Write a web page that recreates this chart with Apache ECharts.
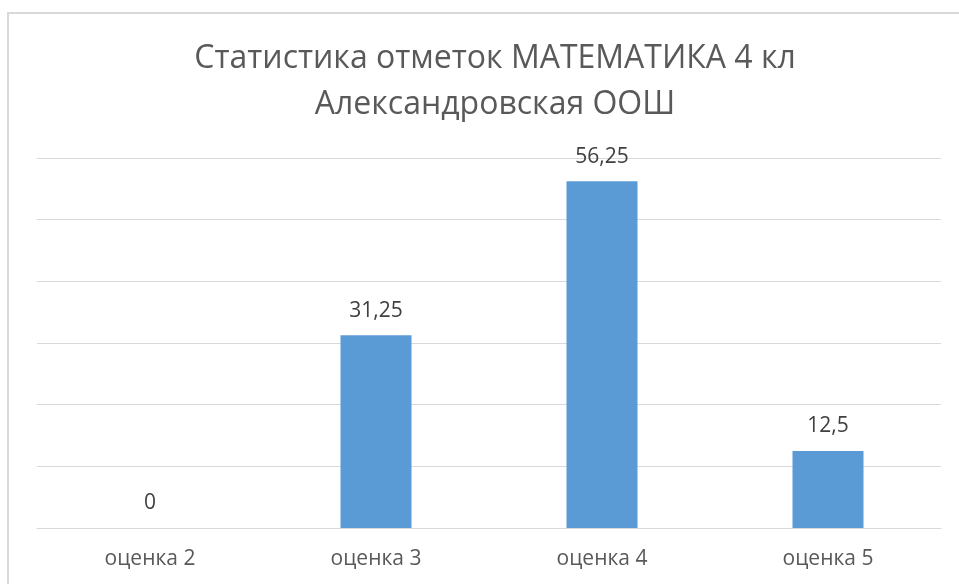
<!DOCTYPE html>
<html>
<head>
<meta charset="utf-8">
<script src="https://cdn.jsdelivr.net/npm/echarts@6/dist/echarts.min.js"></script>
<style>
  html, body { margin: 0; padding: 0; background: #fff; }
  #main { width: 959px; height: 584px; }
</style>
</head>
<body>
<div id="main"></div>
<script>
var categories = ["оценка 2", "оценка 3", "оценка 4", "оценка 5"]
var values = [0, 31.25, 56.25, 12.5]
var labelTexts = ["0", "31,25", "56,25", "12,5"]

var chartDom = document.getElementById("main")
var myChart = echarts.init(chartDom)
var option = {
  animation: false,
  title: {
    text: "Статистика отметок МАТЕМАТИКА 4 кл\nАлександровская ООШ",
    left: 490,
    top: 31,
    textAlign: "center",
    textStyle: {
      fontFamily: "Open Sans",
      fontSize: 32,
      fontWeight: "normal",
      color: "#595959",
      lineHeight: 46
    }
  },
  // рамка области диаграммы
  graphic: [
    {
      type: "rect",
      shape: { x: 8, y: 13, width: 980, height: 600 },
      style: { fill: "none", stroke: "#d9d9d9", lineWidth: 2 },
      silent: true
    }
  ],
  grid: {
    left: 37,
    right: 18,
    top: 158,
    bottom: 56
  },
  xAxis: {
    type: "category",
    data: categories,
    axisLine: { lineStyle: { color: "#d9d9d9", width: 1 } },
    axisTick: { show: false },
    axisLabel: {
      fontFamily: "Open Sans",
      fontSize: 21,
      color: "#595959",
      margin: 21
    }
  },
  yAxis: {
    type: "value",
    min: 0,
    max: 60,
    interval: 10,
    axisLabel: { show: false },
    axisLine: { show: false },
    axisTick: { show: false },
    splitLine: { lineStyle: { color: "#d9d9d9", width: 1 } }
  },
  series: [
    {
      type: "bar",
      data: values,
      barWidth: 71,
      itemStyle: { color: "#5b9bd5" },
      label: {
        show: true,
        position: "top",
        distance: 14,
        fontFamily: "Open Sans",
        fontSize: 21,
        color: "#404040",
        formatter: function (p) {
          return labelTexts[p.dataIndex]
        }
      }
    }
  ]
}
myChart.setOption(option)
</script>
</body>
</html>
